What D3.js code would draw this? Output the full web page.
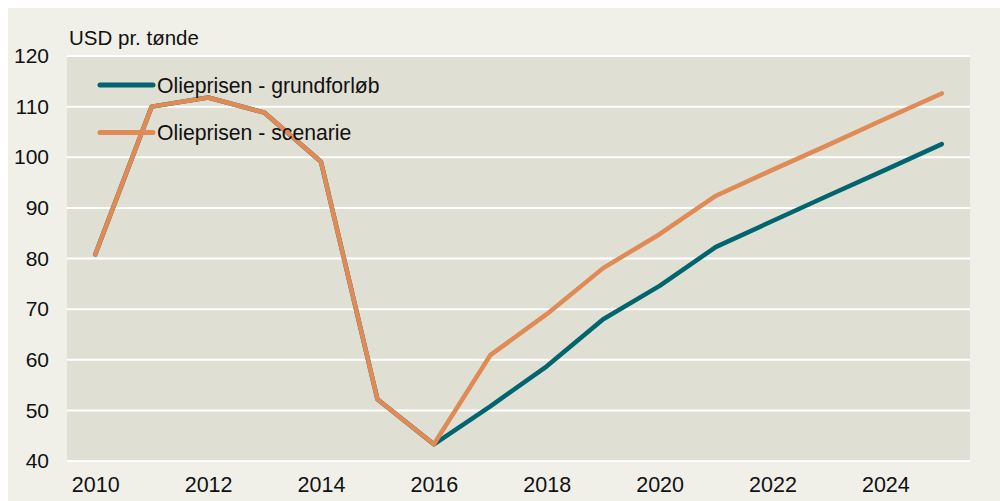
<!DOCTYPE html>
<html>
<head>
<meta charset="utf-8">
<script src="https://cdn.jsdelivr.net/npm/d3@7"></script>
<style>
  body { margin: 0; background: #ffffff; }
  svg text { font-family: "Liberation Sans", Arial, sans-serif; fill: #111; }
</style>
</head>
<body>
<div id="chart"></div>
<script>
// oil price, USD per barrel
var years = [2010, 2011, 2012, 2013, 2014, 2015, 2016, 2017, 2018, 2019, 2020, 2021, 2022, 2023, 2024, 2025];
var grund = [80.8, 110.0, 111.8, 108.8, 99.1, 52.2, 43.3, 50.8, 58.7, 68.0, 74.6, 82.3, 87.4, 92.5, 97.5, 102.6];
var scenarie = [80.8, 110.0, 111.8, 108.8, 99.1, 52.2, 43.3, 60.9, 69.0, 78.1, 84.8, 92.4, 97.5, 102.5, 107.6, 112.6];
var yTicks = [40, 50, 60, 70, 80, 90, 100, 110, 120];
var xTicks = [2010, 2012, 2014, 2016, 2018, 2020, 2022, 2024];
var seriesNames = ["Olieprisen - grundforløb", "Olieprisen - scenarie"];
var colors = ["#00656f", "#e08a55"];

var W = 1000, H = 501;
var plot = {left: 67, right: 970, top: 56, bottom: 461};

var svg = d3.select("#chart").append("svg")
    .attr("width", W)
    .attr("height", H);

// outer panel
svg.append("rect")
    .attr("x", 8).attr("y", 8)
    .attr("width", W - 8).attr("height", H - 8)
    .attr("fill", "#f0f0e9");

var x = d3.scalePoint().domain(years).range([plot.left, plot.right]).padding(0.5);
var y = d3.scaleLinear().domain([40, 120]).range([plot.bottom, plot.top]);

svg.append("rect")
    .attr("x", plot.left).attr("y", plot.top)
    .attr("width", plot.right - plot.left).attr("height", plot.bottom - plot.top)
    .attr("fill", "#e0dfd4");

// gridlines
svg.selectAll("line.grid")
    .data(yTicks)
  .enter().append("line")
    .attr("class", "grid")
    .attr("x1", plot.left).attr("x2", plot.right)
    .attr("y1", function(d) { return y(d); })
    .attr("y2", function(d) { return y(d); })
    .attr("stroke", "#ffffff")
    .attr("stroke-width", 2);

// y labels
var yAxis = svg.append("g")
    .attr("transform", "translate(" + plot.left + ",0)")
    .call(d3.axisLeft(y).tickValues(yTicks).tickSize(0).tickPadding(18));
yAxis.select(".domain").remove();
yAxis.selectAll("text")
    .style("font-size", "21px")
    .attr("fill", "#111");

// x labels
var xAxis = svg.append("g")
    .attr("transform", "translate(0," + plot.bottom + ")")
    .call(d3.axisBottom(x).tickValues(xTicks).tickSize(0).tickPadding(16));
xAxis.select(".domain").remove();
xAxis.selectAll("text")
    .style("font-size", "21.5px")
    .attr("fill", "#111");

svg.append("text")
    .attr("x", 69)
    .attr("y", 45)
    .style("font-size", "20.5px")
    .text("USD pr. tønde");

var line = d3.line()
    .x(function(d, i) { return x(years[i]); })
    .y(function(d) { return y(d); });

[grund, scenarie].forEach(function(s, i) {
  svg.append("path")
      .datum(s)
      .attr("d", line)
      .attr("fill", "none")
      .attr("stroke", colors[i])
      .attr("stroke-width", 4.5)
      .attr("stroke-linejoin", "round")
      .attr("stroke-linecap", "round");
});

// legend
var legend = svg.selectAll("g.legend")
    .data(seriesNames)
  .enter().append("g")
    .attr("class", "legend")
    .attr("transform", function(d, i) { return "translate(100," + (85 + i * 47.5) + ")"; });

legend.append("line")
    .attr("x1", 0).attr("x2", 53)
    .attr("stroke", function(d, i) { return colors[i]; })
    .attr("stroke-width", 5)
    .attr("stroke-linecap", "round");

legend.append("text")
    .attr("x", 57)
    .attr("y", 7.5)
    .style("font-size", "21.2px")
    .text(function(d) { return d; });
</script>
</body>
</html>
